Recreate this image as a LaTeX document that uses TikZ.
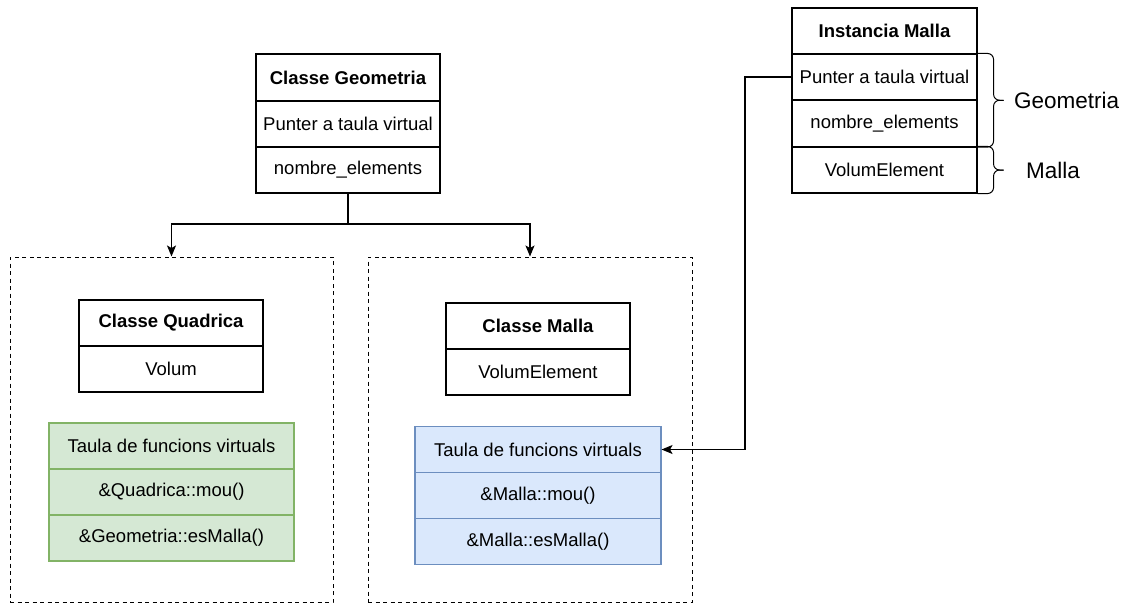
\documentclass[tikz,border=0pt]{standalone}
\usepackage{fontspec}
\setmainfont{Liberation Sans}
\usetikzlibrary{arrows.meta,calc}
\definecolor{greenfill}{HTML}{D5E8D4}
\definecolor{greenline}{HTML}{82B366}
\definecolor{bluefill}{HTML}{DAE8FC}
\definecolor{blueline}{HTML}{6C8EBF}
\tikzset{
  cell/.style={draw, line width=1.1pt, minimum width=184pt, minimum height=46pt, inner sep=0pt, font=\fontsize{18.5}{22}\selectfont},
  head/.style={cell, font=\fontsize{18.5}{22}\selectfont\bfseries},
  greencell/.style={cell, draw=greenline, fill=greenfill, minimum width=245pt},
  bluecell/.style={cell, draw=blueline, fill=bluefill, minimum width=246pt},
  group/.style={draw, dashed, line width=1pt, dash pattern=on 4pt off 3.5pt, inner sep=0pt},
  conn/.style={line width=1.1pt, -{Stealth[length=11pt,width=9pt,inset=2.5pt]}},
  bracelabel/.style={font=\fontsize{22.5}{26}\selectfont, anchor=west},
  bracket/.style={line width=1pt, rounded corners=6pt}
}
\begin{document}
\begin{tikzpicture}[x=1pt,y=-1pt]
\useasboundingbox (0,0) rectangle (1130,603);

% dashed groups
\node[group, minimum width=323pt, minimum height=345pt] (dq) at (171.5,429.5) {};
\node[group, minimum width=324pt, minimum height=345pt] (dm) at (530,429.5) {};

% base class
\node[head, minimum height=47pt] (g1) at (348,77.5) {Classe Geometria};
\node[cell] (g2) at (348,124) {Punter a taula virtual};
\node[cell] (g3) at (348,170) {nombre\_elements};

% Quadrica class and its vtable
\node[head] (q1) at (171,323) {Classe Quadrica};
\node[cell] (q2) at (171,369) {Volum};
\node[greencell] (t1) at (171.5,446) {Taula de funcions virtuals};
\node[greencell] (t2) at (171.5,492) {\&Quadrica::mou()};
\node[greencell] (t3) at (171.5,538) {\&Geometria::esMalla()};

% Malla class and its vtable
\node[head] (m1) at (538,326) {Classe Malla};
\node[cell] (m2) at (538,372) {VolumElement};
\node[bluecell] (b1) at (538,449.5) {Taula de funcions virtuals};
\node[bluecell] (b2) at (538,495.5) {\&Malla::mou()};
\node[bluecell] (b3) at (538,541.5) {\&Malla::esMalla()};

% Malla instance
\node[head, minimum width=185pt] (i1) at (884.5,31) {Instancia Malla};
\node[cell, minimum width=185pt] (i2) at (884.5,77) {Punter a taula virtual};
\node[cell, minimum width=185pt] (i3) at (884.5,123.5) {nombre\_elements};
\node[cell, minimum width=185pt] (i4) at (884.5,170) {VolumElement};

% inheritance
\coordinate (split) at (348,224);
\draw[line width=1.1pt] (g3.south) -- (split);
\draw[conn] (split) -| (dq.north);
\draw[conn] (split) -| (dm.north);

% vtable pointer
\coordinate (bend) at (745,77);
\draw[conn] (i2.west) -- (bend) |- (b1.east);

% curly brackets grouping the members
\coordinate (gmid) at ($(i2.north east)!0.5!(i3.south east)+(16,0)$);
\coordinate (gtip) at ($(gmid)+(10,0)$);
\draw[bracket] (i2.north east) -| (gmid) -- (gtip);
\draw[bracket] (i3.south east) -| (gmid) -- (gtip);
\node[bracelabel] (lg) at ($(gtip)+(7,0)$) {Geometria};

\coordinate (mmid) at ($(i4.north east)!0.5!(i4.south east)+(16,0)$);
\coordinate (mtip) at ($(mmid)+(10,0)$);
\draw[bracket] (i4.north east) -| (mmid) -- (mtip);
\draw[bracket] (i4.south east) -| (mmid) -- (mtip);
\node[bracelabel] (lm) at ($(mtip)+(19,0)$) {Malla};
\end{tikzpicture}
\end{document}
